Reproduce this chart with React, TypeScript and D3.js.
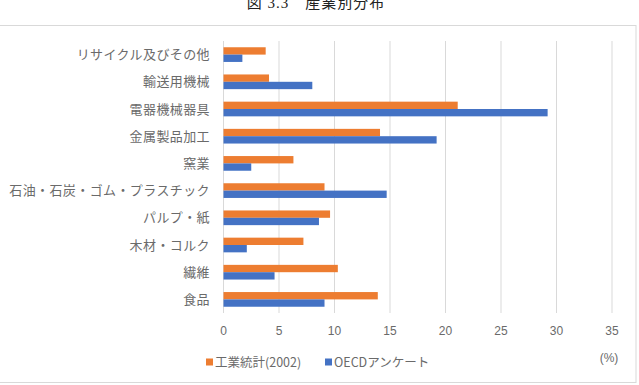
import React from "react";
import * as d3 from "d3";

// 産業別分布 (%)
const categories = [
  "リサイクル及びその他",
  "輸送用機械",
  "電器機械器具",
  "金属製品加工",
  "窯業",
  "石油・石炭・ゴム・プラスチック",
  "パルプ・紙",
  "木材・コルク",
  "繊維",
  "食品",
];
const seriesNames = ["工業統計(2002)", "OECDアンケート"];
const industryStats = [3.8, 4.1, 21.1, 14.1, 6.3, 9.1, 9.6, 7.2, 10.3, 13.9];
const oecdSurvey = [1.7, 8.0, 29.2, 19.2, 2.5, 14.7, 8.6, 2.1, 4.6, 9.1];
const xTicks = [0, 5, 10, 15, 20, 25, 30, 35];

const colors = ["#ED7D31", "#4472C4"];
const textColor = "#6a6a6a";
const labelFont = "'Noto Sans CJK JP', 'Noto Sans', sans-serif";
const numFont = "'Liberation Sans', 'Noto Sans CJK JP', sans-serif";

export default function App() {
  const width = 639;
  const height = 385;

  const x = d3.scaleLinear().domain([0, 35]).range([223.5, 612]);
  const y = d3
    .scaleBand<string>()
    .domain(categories)
    .range([41, 313])
    .paddingInner(0.46)
    .paddingOuter(0.23);
  const ySeries = d3
    .scaleBand<string>()
    .domain(seriesNames)
    .range([0, y.bandwidth()]);

  const rows = categories.map((c, i) => ({
    category: c,
    values: [industryStats[i], oecdSurvey[i]],
  }));

  return (
    <svg
      width={width}
      height={height}
      style={{ position: "absolute", left: 0, top: 0, background: "#fff" }}
    >
      <text
        x={316}
        y={8}
        textAnchor="middle"
        fontFamily="'Liberation Serif', 'Noto Sans CJK JP', serif"
        fontSize={15}
        letterSpacing={1}
        fill="#222"
      >
        図 3.3　産業別分布
      </text>

      {/* chart frame */}
      <rect x={-1} y={25.5} width={637} height={357} fill="#fff" stroke="#d9d9d9" />

      {/* grid */}
      {xTicks.map((t) => (
        <line
          key={t}
          x1={x(t)}
          x2={x(t)}
          y1={41}
          y2={313}
          stroke="#d9d9d9"
          strokeWidth={1}
        />
      ))}

      {/* bars */}
      {rows.map((r) => (
        <g key={r.category} transform={`translate(0,${y(r.category)})`}>
          {r.values.map((v, j) => (
            <rect
              key={j}
              x={x(0)}
              y={ySeries(seriesNames[j])}
              width={x(v) - x(0)}
              height={ySeries.bandwidth()}
              fill={colors[j]}
            />
          ))}
        </g>
      ))}

      {/* category labels */}
      {categories.map((c) => (
        <text
          key={c}
          x={210}
          y={(y(c) as number) + y.bandwidth() / 2}
          dy="0.36em"
          textAnchor="end"
          fontFamily={labelFont}
          fontSize={13}
          letterSpacing={0.4}
          fill={textColor}
        >
          {c}
        </text>
      ))}

      {/* x tick labels */}
      {xTicks.map((t) => (
        <text
          key={t}
          x={x(t)}
          y={335}
          textAnchor="middle"
          fontFamily={numFont}
          fontSize={12}
          fill={textColor}
        >
          {t}
        </text>
      ))}

      <text
        x={609}
        y={362}
        textAnchor="middle"
        fontFamily={numFont}
        fontSize={12}
        fill={textColor}
      >
        (%)
      </text>

      {/* legend */}
      {seriesNames.map((s, j) => {
        const lx = j === 0 ? 206 : 325;
        return (
          <g key={s} transform={`translate(${lx},358.5)`}>
            <rect width={7} height={7} fill={colors[j]} />
            <text
              x={9}
              y={3.5}
              dy="0.36em"
              fontFamily={labelFont}
              fontSize={12.5}
              fill={textColor}
            >
              {s}
            </text>
          </g>
        );
      })}
    </svg>
  );
}
